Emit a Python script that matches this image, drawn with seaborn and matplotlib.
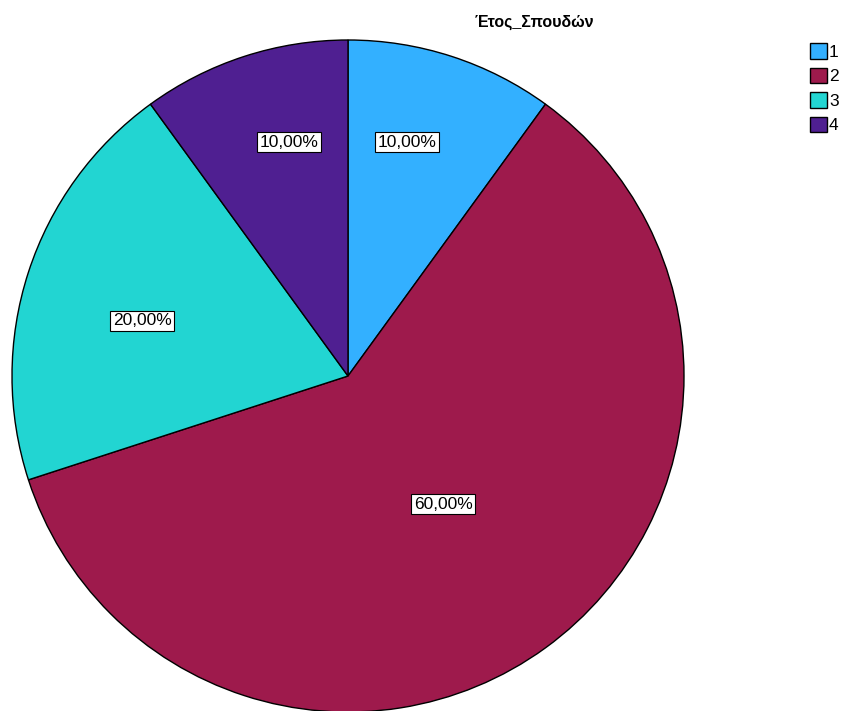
import numpy as np
import matplotlib
matplotlib.use("Agg")
import matplotlib.pyplot as plt
import seaborn as sns

# Year of study distribution
categories = ["1", "2", "3", "4"]
percentages = [10.0, 60.0, 20.0, 10.0]
colors = ["#33b0ff", "#9e1a4c", "#22d5d2", "#4f1f91"]
# label anchors inside each wedge (axis units, pie radius = 1)
label_xy = [(0.176, 0.696), (0.283, -0.381), (-0.613, 0.164), (-0.176, 0.696)]

sns.set_style("white")
plt.rcParams["font.family"] = ["Liberation Sans Narrow", "Liberation Sans", "DejaVu Sans"]
plt.rcParams["text.color"] = "black"

W, H = 843, 711
fig = plt.figure(figsize=(W / 100, H / 100), dpi=100)
cx, cy, r = 348, 376, 336
ax = fig.add_axes([(cx - r) / W, 1 - (cy + r) / H, 2 * r / W, 2 * r / H])

wedges, _ = ax.pie(percentages, colors=colors, startangle=90, counterclock=False,
                   radius=1.0, wedgeprops=dict(edgecolor="black", linewidth=1.0))
ax.set_xlim(-1, 1)
ax.set_ylim(-1, 1)
ax.set_aspect("equal")
ax.axis("off")

for pct, (lx, ly) in zip(percentages, label_xy):
    ax.text(lx, ly, f"{pct:.2f}%".replace(".", ","),
            ha="center", va="center", fontsize=12.5, color="black",
            bbox=dict(boxstyle="square,pad=0.15", fc="white", ec="black", lw=0.8))

fig.text(534 / W, 1 - 22 / H, "Έτος_Σπουδών", ha="center", va="center",
         fontsize=11.5, fontweight="bold", color="black")

leg = fig.legend(wedges, categories, loc="upper left", bbox_to_anchor=(810 / W, 1 - 43 / H),
                 frameon=False, fontsize=12.5, handlelength=1.0, handleheight=1.0,
                 handletextpad=0.1, labelspacing=0.45, borderaxespad=0, borderpad=0)
for t in leg.get_texts():
    t.set_color("black")

fig.savefig("out.png", dpi=100, facecolor="white")
